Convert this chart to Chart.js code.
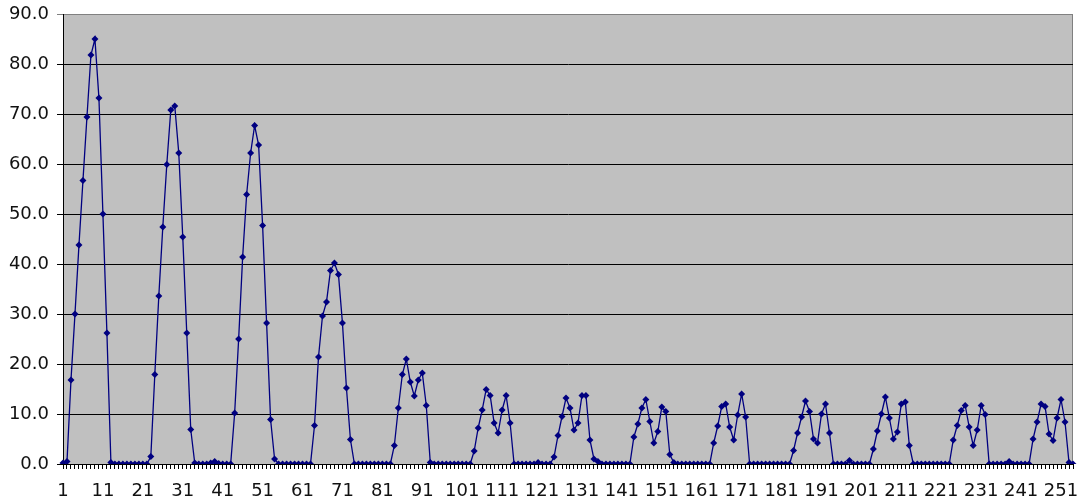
<!DOCTYPE html>
<html>
<head>
<meta charset="utf-8">
<script src="https://cdn.jsdelivr.net/npm/chart.js@4/dist/chart.umd.min.js"></script>
<style>
    html, body { margin: 0; padding: 0; background: #fff; }
    #chart { display: block; }
</style>
</head>
<body>
<canvas id="chart" width="1077" height="504"></canvas>
<script>
// series values, one per category (1..254)
const values = [
    0.2, 0.5, 16.8, 30.0, 43.8, 56.7, 69.4, 81.8, 85.0, 73.2,
    50.0, 26.2, 0.3, 0, 0, 0, 0, 0, 0, 0,
    0, 0, 1.5, 17.9, 33.6, 47.4, 59.9, 70.8, 71.6, 62.2,
    45.4, 26.2, 6.9, 0.2, 0, 0, 0, 0.2, 0.5, 0.1,
    0, 0, 0, 10.2, 25.0, 41.4, 53.9, 62.2, 67.7, 63.8,
    47.7, 28.2, 8.9, 1.0, 0, 0, 0, 0, 0, 0,
    0, 0, 0, 7.7, 21.4, 29.6, 32.4, 38.7, 40.2, 37.9,
    28.2, 15.2, 4.9, 0, 0, 0, 0, 0, 0, 0,
    0, 0, 0, 3.7, 11.2, 17.9, 21.0, 16.4, 13.6, 16.8,
    18.2, 11.7, 0.3, 0, 0, 0, 0, 0, 0, 0,
    0, 0, 0, 2.6, 7.2, 10.8, 14.9, 13.7, 8.2, 6.2,
    10.8, 13.7, 8.2, 0, 0, 0, 0, 0, 0, 0.3,
    0, 0, 0, 1.4, 5.7, 9.5, 13.2, 11.2, 6.8, 8.2,
    13.7, 13.7, 4.8, 1.0, 0.5, 0, 0, 0, 0, 0,
    0, 0, 0, 5.4, 8.0, 11.2, 12.9, 8.5, 4.2, 6.5,
    11.4, 10.5, 1.9, 0.3, 0, 0, 0, 0, 0, 0,
    0, 0, 0, 4.2, 7.6, 11.5, 12.0, 7.4, 4.8, 9.8,
    14.0, 9.4, 0, 0, 0, 0, 0, 0, 0, 0,
    0, 0, 0, 2.7, 6.2, 9.4, 12.6, 10.5, 5.0, 4.2,
    10.0, 12.0, 6.2, 0, 0, 0, 0, 0.7, 0, 0,
    0, 0, 0, 3.0, 6.6, 10.0, 13.4, 9.2, 5.0, 6.4,
    12.0, 12.4, 3.7, 0, 0, 0, 0, 0, 0, 0,
    0, 0, 0, 4.8, 7.7, 10.7, 11.7, 7.4, 3.7, 6.8,
    11.7, 9.9, 0, 0, 0, 0, 0, 0.5, 0, 0,
    0, 0, 0, 5.0, 8.4, 12.0, 11.5, 6.0, 4.7, 9.2,
    12.9, 8.4, 0.3, 0
];

// categories are just the sample numbers
const categories = values.map((v, i) => String(i + 1));

// only every tenth category gets a label
const tickLabels = ['1', '11', '21', '31', '41', '51', '61', '71', '81', '91',
    '101', '111', '121', '131', '141', '151', '161', '171', '181', '191',
    '201', '211', '221', '231', '241', '251'];

const yMin = 0;
const yMax = 90;
const yStep = 10;

const LINE_COLOR = '#000080';
const PLOT_BG = '#c0c0c0';
const FONT = { family: 'DejaVu Sans', size: 18 };

// gray fill behind the plot area, like the old Excel default
const plotBackground = {
    id: 'plotBackground',
    beforeDraw(chart) {
        const { ctx, chartArea: a } = chart;
        ctx.save();
        ctx.fillStyle = PLOT_BG;
        ctx.fillRect(a.left, a.top, a.right - a.left, a.bottom - a.top);
        ctx.strokeStyle = '#808080';
        ctx.lineWidth = 1;
        ctx.beginPath();
        ctx.moveTo(a.left, a.top + 0.5);
        ctx.lineTo(a.right - 0.5, a.top + 0.5);
        ctx.lineTo(a.right - 0.5, a.bottom);
        ctx.stroke();
        ctx.restore();
    }
};

const ctx = document.getElementById('chart').getContext('2d');
new Chart(ctx, {
    type: 'line',
    data: {
        labels: categories,
        datasets: [{
            data: values,
            borderColor: LINE_COLOR,
            backgroundColor: LINE_COLOR,
            borderWidth: 1.3,
            tension: 0,
            pointStyle: 'rectRot',
            pointRadius: 3.5,
            pointBorderWidth: 0,
            pointBackgroundColor: LINE_COLOR
        }]
    },
    options: {
        responsive: false,
        animation: false,
        layout: { padding: { left: 0, right: 4, top: 14, bottom: 0 } },
        plugins: {
            legend: { display: false },
            tooltip: { enabled: false }
        },
        scales: {
            x: {
                offset: false,
                afterFit: (s) => { s.height = 40; s.paddingLeft = 0; s.paddingRight = 0; },
                grid: {
                    drawOnChartArea: false,
                    drawTicks: true,
                    tickLength: 5,
                    color: '#000'
                },
                border: { display: true, color: '#000', width: 1 },
                ticks: {
                    autoSkip: false,
                    maxRotation: 0,
                    minRotation: 0,
                    padding: 12,
                    color: '#111',
                    font: FONT,
                    callback: function (val) {
                        const lab = this.getLabelForValue(val);
                        return tickLabels.includes(lab) ? lab : '';
                    }
                }
            },
            y: {
                min: yMin,
                max: yMax,
                afterFit: (s) => { s.width = 63; s.paddingTop = 0; s.paddingBottom = 0; },
                grid: {
                    color: (c) => c.tick && c.tick.value === yMax ? '#808080' : '#000',
                    tickLength: 6,
                    drawTicks: true
                },
                border: { display: true, color: '#000', width: 1 },
                ticks: {
                    stepSize: yStep,
                    padding: 8,
                    color: '#111',
                    font: FONT,
                    callback: (v) => v.toFixed(1)
                }
            }
        }
    },
    plugins: [plotBackground]
});
</script>
</body>
</html>
